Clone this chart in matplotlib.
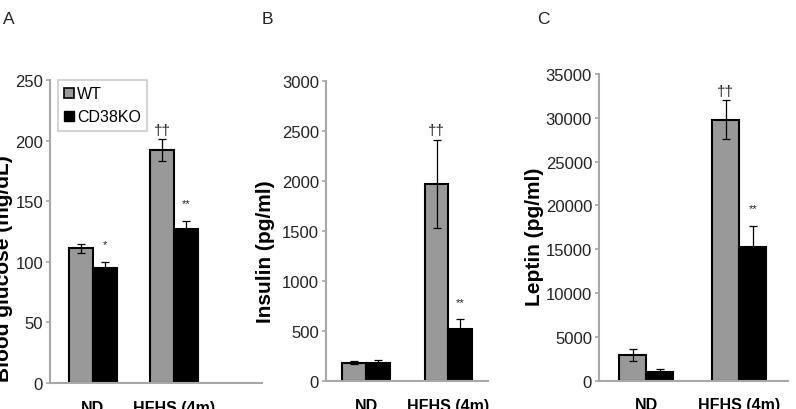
import matplotlib
matplotlib.use('Agg')
from matplotlib import pyplot as plt
from matplotlib.patches import Patch
import numpy as np

plt.rcParams['font.family'] = ['Liberation Sans', 'DejaVu Sans']

# data
groups = ['ND', 'HFHS (4m)']

glucose_wt = [111, 192]
glucose_wt_err = [4, 9]
glucose_ko = [95, 127]
glucose_ko_err = [5, 7]

insulin_wt = [180, 1970]
insulin_wt_err = [15, 440]
insulin_ko = [175, 515]
insulin_ko_err = [30, 100]

leptin_wt = [2950, 29800]
leptin_wt_err = [700, 2200]
leptin_ko = [1050, 15300]
leptin_ko_err = [300, 2400]

# significance marks (WT bar, KO bar) per panel
glucose_wt_marks = ['', '\u2020\u2020']
glucose_ko_marks = ['*', '**']
insulin_wt_marks = ['', '\u2020\u2020']
insulin_ko_marks = ['', '**']
leptin_wt_marks = ['', '\u2020\u2020']
leptin_ko_marks = ['', '**']

panels = [
    ('A', 'Blood glucose (mg/dL)', glucose_wt, glucose_wt_err, glucose_ko, glucose_ko_err,
     glucose_wt_marks, glucose_ko_marks, 250, 50),
    ('B', 'Insulin (pg/ml)', insulin_wt, insulin_wt_err, insulin_ko, insulin_ko_err,
     insulin_wt_marks, insulin_ko_marks, 3000, 500),
    ('C', 'Leptin (pg/ml)', leptin_wt, leptin_wt_err, leptin_ko, leptin_ko_err,
     leptin_wt_marks, leptin_ko_marks, 35000, 5000),
]

# layout in figure fractions and x-limits for each panel
axes_rects = [
    [0.0628, 0.0634, 0.2663, 0.739],
    [0.4095, 0.0683, 0.2035, 0.7324],
    [0.7525, 0.069, 0.2374, 0.748],
]
xlims = [(-0.525, 2.08), (-0.486, 1.48), (-0.504, 1.52)]
bar_w = [0.295, 0.286, 0.29]
ylabel_pos = [(0.005, 0.344), (0.334, 0.385), (0.672, 0.422)]
letter_pos = [(0.004, 0.953), (0.329, 0.953), (0.675, 0.953)]

gray = '#999999'
axis_gray = '#a8a8a8'

fig = plt.figure(figsize=(7.96, 4.10), dpi=100)

for k, (letter, ylab, wt, wt_err, ko, ko_err, wt_marks, ko_marks, ymax, ystep) in enumerate(panels):
    ax = fig.add_axes(axes_rects[k])
    x = np.arange(len(groups))
    w = bar_w[k]
    ax.bar(x - w / 2, wt, w, color=gray, edgecolor='black', linewidth=1.5,
           yerr=wt_err, error_kw=dict(ecolor='black', elinewidth=0.9, capsize=3, capthick=0.9))
    ax.bar(x + w / 2, ko, w, color='black', edgecolor='black', linewidth=1.5,
           yerr=ko_err, error_kw=dict(ecolor='black', elinewidth=0.9, capsize=3, capthick=0.9))

    for i in range(len(groups)):
        if wt_marks[i]:
            ax.annotate(wt_marks[i], (x[i] - w / 2, wt[i] + wt_err[i]), xytext=(0, 2),
                        textcoords='offset points', ha='center', va='bottom',
                        fontsize=11, color='#222222')
        if ko_marks[i]:
            ax.annotate(ko_marks[i], (x[i] + w / 2, ko[i] + ko_err[i]), xytext=(0, 9),
                        textcoords='offset points', ha='center', va='bottom',
                        fontsize=8, color='#222222')

    ax.set_xlim(*xlims[k])
    ax.set_ylim(0, ymax)
    ax.set_yticks(np.arange(0, ymax + 1, ystep))
    ax.set_xticks(x)
    ax.set_xticklabels(groups, fontweight='bold', fontsize=11.5)
    ax.tick_params(axis='x', length=0, pad=12)
    ax.tick_params(axis='y', length=3, width=1.2, color=axis_gray, labelsize=12,
                   labelcolor='#222222', pad=2)
    for side in ['top', 'right']:
        ax.spines[side].set_visible(False)
    for side in ['left', 'bottom']:
        ax.spines[side].set_color(axis_gray)
        ax.spines[side].set_linewidth(1.5)

    fig.text(ylabel_pos[k][0], ylabel_pos[k][1], ylab, rotation=90, fontsize=15,
             fontweight='bold', ha='center', va='center')
    fig.text(letter_pos[k][0], letter_pos[k][1], letter, fontsize=12.5,
             ha='left', va='center', color='#222222')

    if k == 0:
        handles = [Patch(facecolor=gray, edgecolor='black', linewidth=1.2, label='WT'),
                   Patch(facecolor='black', edgecolor='black', label='CD38KO')]
        leg = ax.legend(handles=handles, loc='upper left', bbox_to_anchor=(0.036, 1.0),
                        borderaxespad=0, fontsize=11.5, handlelength=0.6, handleheight=0.6,
                        handletextpad=0.2, fancybox=False, framealpha=1,
                        borderpad=0.4, labelspacing=0.5)
        leg.get_frame().set_edgecolor('#cccccc')
        leg.get_frame().set_linewidth(1.2)

plt.savefig('out.png', dpi=100)
